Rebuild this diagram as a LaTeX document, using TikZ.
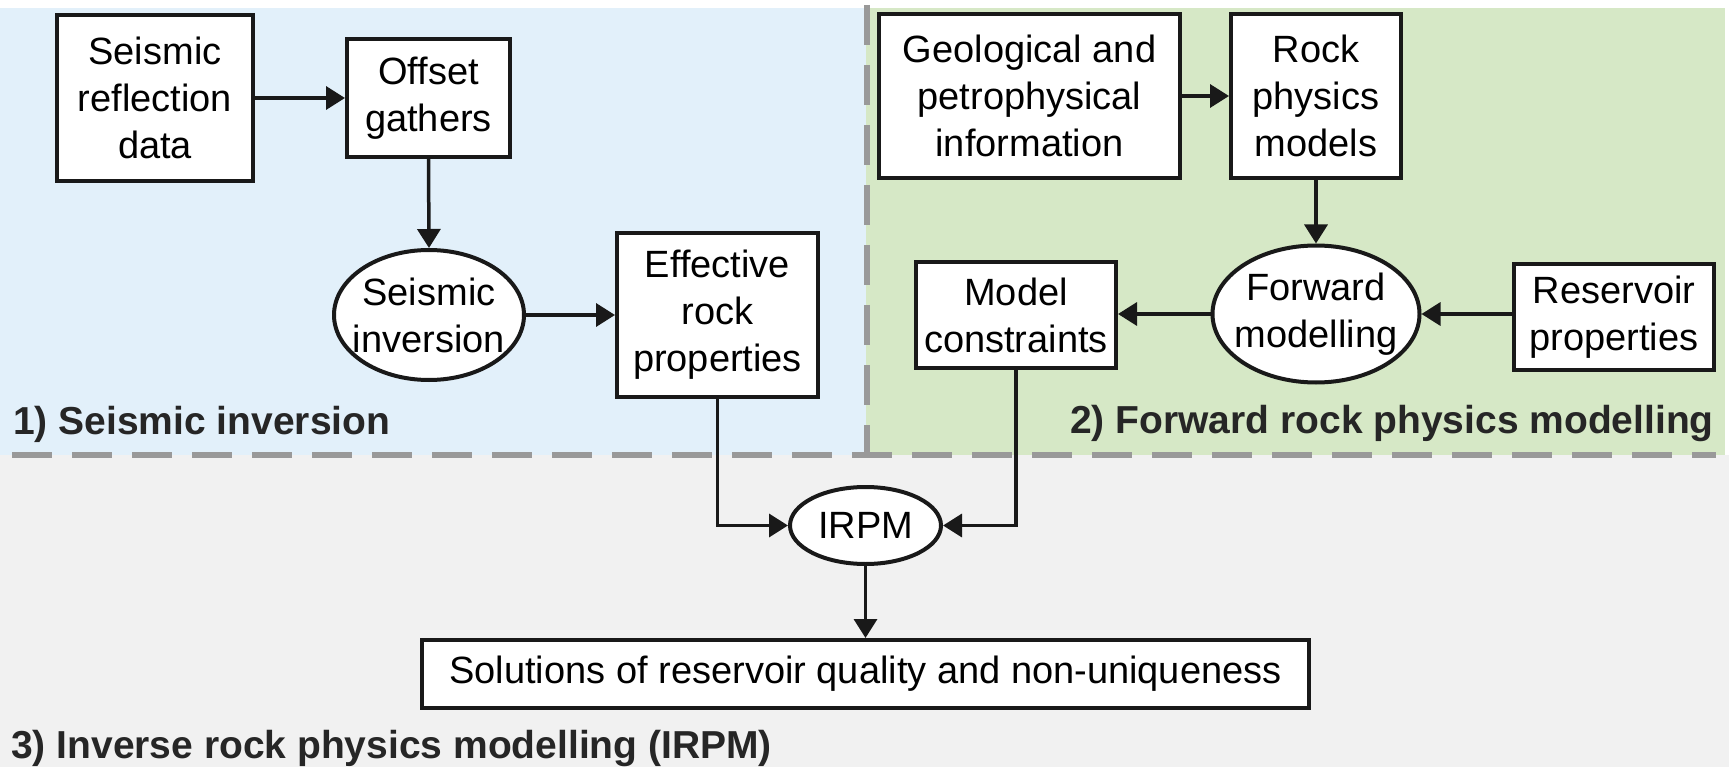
\documentclass[tikz,border=0pt]{standalone}
\usepackage{fontspec}
\setmainfont{Liberation Sans}
\usetikzlibrary{shapes.geometric,arrows.meta}
\definecolor{bgblue}{HTML}{E2F0FA}
\definecolor{bggreen}{HTML}{D6E8C6}
\definecolor{bggray}{HTML}{F1F1F1}
\definecolor{sepgray}{HTML}{999999}
\begin{document}
\begin{tikzpicture}[x=1pt,y=-1pt,
  box/.style={draw=black!90,line width=4pt,fill=white,align=center,inner sep=0pt,font=\fontsize{38}{47}\selectfont},
  oval/.style={draw=black!90,ellipse,line width=4pt,fill=white,inner sep=0pt},
  txt/.style={align=center,inner sep=0pt,font=\fontsize{38}{47}\selectfont},
  arr/.style={draw=black!90,line width=3.5pt,-{Triangle[length=19pt,width=23pt]}},
  sec/.style={font=\fontsize{39}{47}\selectfont\bfseries,inner sep=0pt,anchor=base west,text=black!85},
  sep/.style={draw=sepgray,line width=6pt,dash pattern=on 40pt off 20pt}]
\useasboundingbox (0,0) rectangle (1729,767);
\fill[white] (0,0) rectangle (1729,767);
\fill[bggray] (0,455) rectangle (1729,767);
\fill[bgblue] (0,8) rectangle (866,455);
\fill[bggreen] (866,8) rectangle (1725,455);
\draw[sep] (12,455) -- (1716,455);
\draw[sep] (867,5) -- (867,452);

\node[box,minimum width=196pt,minimum height=166pt] (srd) at (155,98) {Seismic\\reflection\\data};
\node[box,minimum width=163pt,minimum height=118pt] (og) at (428.5,98) {Offset\\gathers};
\node[oval,minimum width=190pt,minimum height=130pt] (si) at (429,315) {};
\node[txt] (sit) at (si) {Seismic\\inversion};
\node[box,minimum width=201pt,minimum height=163pt] (erp) at (717.5,315) {Effective\\rock\\properties};

\node[box,minimum width=301pt,minimum height=164pt] (geo) at (1029.5,96) {Geological and\\petrophysical\\information};
\node[box,minimum width=170pt,minimum height=164pt] (rpm) at (1316,96) {Rock\\physics\\models};
\node[oval,minimum width=207pt,minimum height=137pt] (fm) at (1316,314) {};
\node[txt] (fmt) at (fm) {Forward\\modelling};
\node[box,minimum width=200pt,minimum height=105pt] (mc) at (1016,315) {Model\\constraints};
\node[box,minimum width=200pt,minimum height=106pt] (rp) at (1614,317) {Reservoir\\properties};

\node[oval,minimum width=151pt,minimum height=77pt] (irpm) at (865.5,525.5) {};
\node[txt] (irpmt) at (irpm) {IRPM};
\node[box,minimum width=887pt,minimum height=68pt] (sol) at (865.5,674) {Solutions of reservoir quality and non-uniqueness};

\node[sec] (l1) at (13,434) {1) Seismic inversion};
\node[sec,anchor=base east] (l2) at (1714,433) {2) Forward rock physics modelling};
\node[sec] (l3) at (11,758) {3) Inverse rock physics modelling (IRPM)};

\draw[arr] (srd.east) -- (og.west);
\draw[arr] (og.south) -- (si.north);
\draw[arr] (si.east) -- (si.east -| erp.west);
\draw[arr] (geo.east) -- (geo.east -| rpm.west);
\draw[arr] (rpm.south) -- (fm.north);
\draw[arr] (fm.west) -- (fm.west -| mc.east);
\draw[arr] (rp.west |- fm.east) -- (fm.east);
\draw[arr] (erp.south) |- (irpm.west);
\draw[arr] (mc.south) |- (irpm.east);
\draw[arr] (irpm.south) -- (sol.north);
\end{tikzpicture}
\end{document}
